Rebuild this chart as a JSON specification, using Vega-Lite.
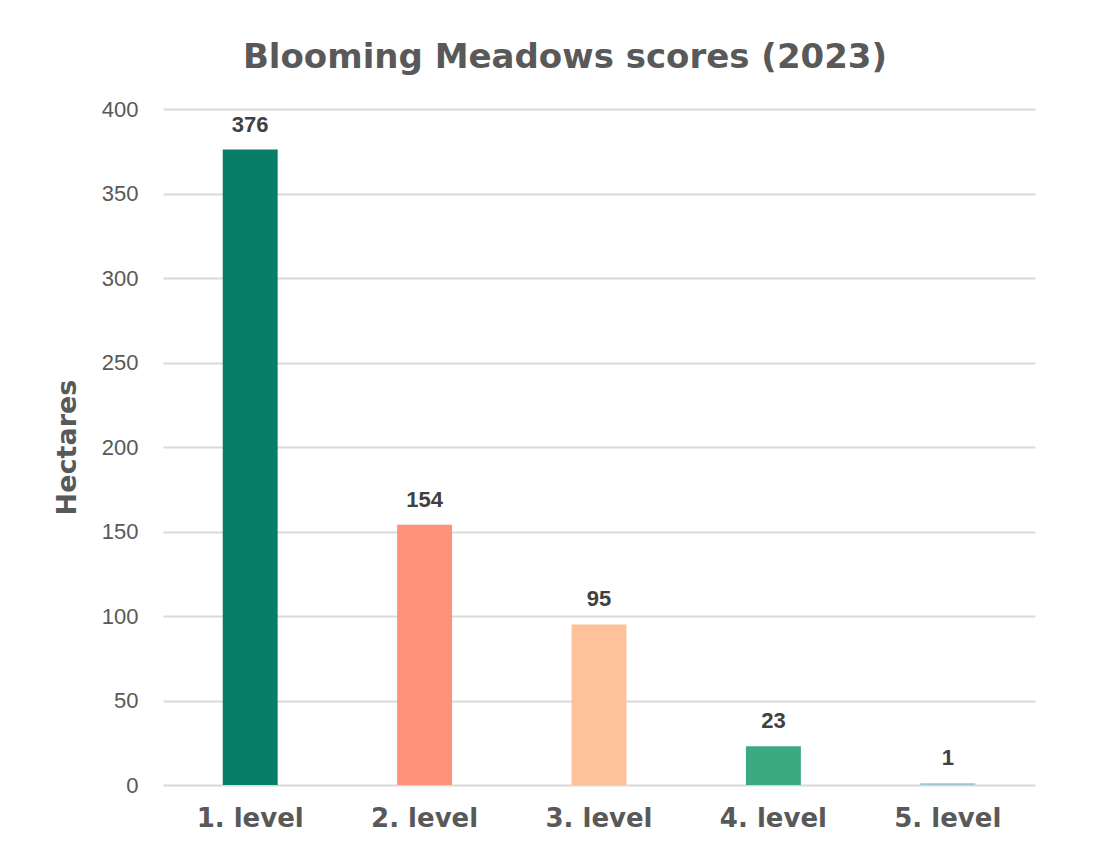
{
  "$schema": "https://vega.github.io/schema/vega-lite/v6.json",
  "autosize": {"type": "none"},
  "padding": {"left": 163, "top": 109, "right": 80, "bottom": 68},
  "width": 872,
  "height": 676,
  "background": "white",
  "title": {
    "text": "Blooming Meadows scores (2023)",
    "font": "DejaVu Sans",
    "fontSize": 34,
    "fontWeight": "bold",
    "color": "#595959",
    "anchor": "middle",
    "frame": "group",
    "dx": -34,
    "offset": 23
  },
  "config": {
    "view": {"stroke": null},
    "axis": {"domain": false, "ticks": false}
  },
  "data": {
    "values": [
      {"level": "1. level", "hectares": 376},
      {"level": "2. level", "hectares": 154},
      {"level": "3. level", "hectares": 95},
      {"level": "4. level", "hectares": 23},
      {"level": "5. level", "hectares": 1}
    ]
  },
  "encoding": {
    "x": {
      "field": "level",
      "type": "nominal",
      "sort": null,
      "title": null,
      "scale": {"paddingInner": 0.685, "paddingOuter": 0.3425},
      "axis": {
        "labelAngle": 0,
        "labelFont": "DejaVu Sans",
        "labelFontSize": 26,
        "labelFontWeight": "bold",
        "labelColor": "#595959",
        "labelPadding": 20,
        "grid": false
      }
    },
    "y": {
      "field": "hectares",
      "type": "quantitative",
      "title": "Hectares",
      "scale": {"domain": [0, 400]},
      "axis": {
        "values": [0, 50, 100, 150, 200, 250, 300, 350, 400],
        "labelFont": "Liberation Sans",
        "labelFontSize": 22,
        "labelColor": "#595959",
        "labelPadding": 25,
        "gridColor": "#d9d9d9",
        "gridWidth": 2,
        "titleFont": "DejaVu Sans",
        "titleFontSize": 27,
        "titleFontWeight": "bold",
        "titleColor": "#595959",
        "titlePadding": 20
      }
    }
  },
  "layer": [
    {
      "mark": {"type": "bar"},
      "encoding": {
        "color": {
          "field": "level",
          "type": "nominal",
          "legend": null,
          "scale": {
            "domain": ["1. level", "2. level", "3. level", "4. level", "5. level"],
            "range": ["#087D68", "#FF9278", "#FFC199", "#3AAA82", "#9EC3D6"]
          }
        }
      }
    },
    {
      "mark": {
        "type": "text",
        "font": "Liberation Sans",
        "fontSize": 22,
        "fontWeight": "bold",
        "color": "#404040",
        "baseline": "alphabetic",
        "dy": -18
      },
      "encoding": {
        "text": {"field": "hectares", "type": "quantitative"}
      }
    }
  ]
}
